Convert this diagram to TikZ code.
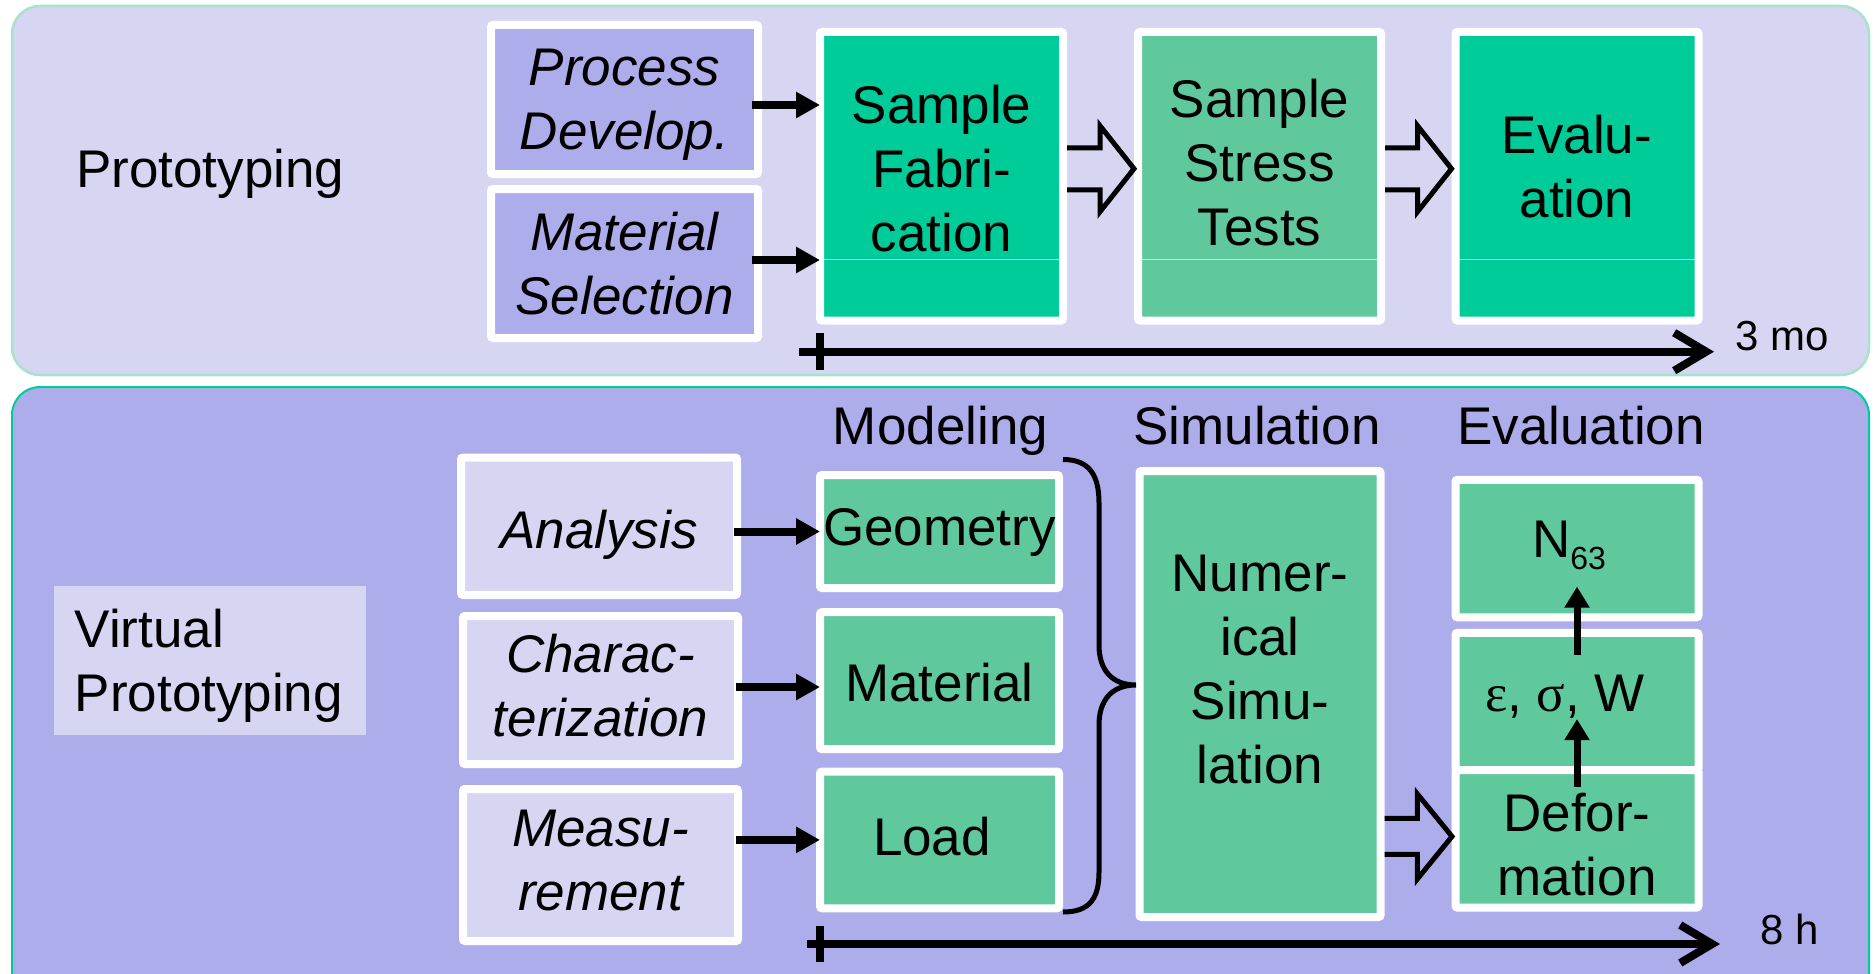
\documentclass[tikz,border=0pt]{standalone}
\usepackage{fontspec}
\setmainfont{Liberation Sans}
\newfontfamily\grkfont{Liberation Serif}
\usetikzlibrary{arrows.meta,calc}
\definecolor{lavL}{HTML}{D6D6F3}
\definecolor{lavD}{HTML}{ADADEB}
\definecolor{grnB}{HTML}{00CC99}
\definecolor{grnM}{HTML}{5FC89D}
\definecolor{mintB}{HTML}{A6E3CB}
\definecolor{sepC}{HTML}{B8F0DE}
\newcommand\BoxFont{\fontsize{53}{64}\selectfont}
\newcommand\SmallFont{\fontsize{42}{48}\selectfont}
\newcommand\SubFont{\fontsize{32}{32}\selectfont}
% #1 start point, #2 tip point, #3 shaft half height, #4 head half height, #5 head length
\newcommand\hollowarrow[5]{\draw[hollow] let \p1=#1, \p2=#2 in
  (\x1,\y2+#3) -- (\x2-#5,\y2+#3) -- (\x2-#5,\y2+#4) -- (\x2,\y2)
  -- (\x2-#5,\y2-#4) -- (\x2-#5,\y2-#3) -- (\x1,\y2-#3);}
\tikzset{
 wbox/.style={draw=white, line width=8pt, rounded corners=2pt, inner sep=0pt, outer sep=0pt},
 txt/.style={font=\BoxFont, align=center, inner sep=0pt},
 itxt/.style={font=\BoxFont\itshape, align=center, inner sep=0pt},
 arr/.style={line width=8pt, -{Triangle[length=24pt,width=25pt]}},
 varr/.style={line width=7pt, -{Triangle[length=21pt,width=24pt]}},
 timeline/.style={line width=8pt, -{Straight Barb[length=32pt,width=38pt]}},
 ticker/.style={line width=8pt},
 hollow/.style={line width=5pt, line join=miter},
 bracestyle/.style={line width=5pt},
 sepline/.style={draw=sepC, line width=1.2pt},
 head/.style={font=\BoxFont, anchor=base, inner sep=0pt},
}
\begin{document}
\begin{tikzpicture}[x=1pt,y=-1pt]
\useasboundingbox (0,0) rectangle (1874,974);
\clip (0,0) rectangle (1874,974);
% panels
\path[fill=lavL, draw=mintB, line width=2.5pt, rounded corners=28pt] (12,6) rectangle (1869,375);
\path[fill=lavD, draw=grnB, line width=2pt, rounded corners=28pt] (12,387) rectangle (1869,1010);

% ---------- top: prototyping ----------
\node[font=\BoxFont, anchor=base west, inner sep=0pt] (proto) at (76,187) {Prototyping};

\node[wbox, fill=lavD, minimum width=267pt, minimum height=149pt] (pd) at (624.5,99.5) {};
\node[wbox, fill=lavD, minimum width=267pt, minimum height=149pt] (ms) at (624.5,263.5) {};
\node[wbox, fill=grnB, minimum width=243pt, minimum height=288.5pt] (sf) at (941.5,176.25) {};
\node[wbox, fill=grnM, minimum width=243pt, minimum height=288.5pt] (sst) at (1259.5,176.25) {};
\node[wbox, fill=grnB, minimum width=243pt, minimum height=288.5pt] (ev) at (1577,176.25) {};
\foreach \b in {sf,sst,ev}
  \draw[sepline] ($(\b.south west)+(4,-61)$) -- ($(\b.south east)+(-4,-61)$);

\node[itxt] (pd-t) at ($(pd)+(0,5.5)$) {Process\\Develop.};
\node[itxt] (ms-t) at ($(ms)+(0,0)$) {Material\\Selection};
\node[txt] (sf-t) at ($(sf)+(0,-7.5)$) {Sample\\Fabri-\\cation};
\node[txt] (sst-t) at ($(sst)+(0,-13.5)$) {Sample\\Stress\\Tests};
\node[txt] (ev-t) at ($(ev)+(0,-10)$) {Evalu-\\ation};

\coordinate (a1) at ([xshift=-6pt,yshift=-5.5pt]pd.east);
\coordinate (a2) at ([xshift=-6pt,yshift=3.5pt]ms.east);
\draw[arr] (a1) -- (a1 -| sf.west);
\draw[arr] (a2) -- (a2 -| sf.west);

\hollowarrow{([xshift=4pt]sf.east)}{([xshift=-4pt,yshift=7.5pt]sst.west)}{21pt}{43pt}{34pt}
\hollowarrow{([xshift=4pt]sst.east)}{([xshift=-4pt,yshift=7.5pt]ev.west)}{21pt}{43pt}{34pt}

\coordinate (tl1s) at (799,351.7);
\coordinate (tl1e) at (1714,351.7);
\draw[timeline] (tl1s) -- (tl1e);
\draw[ticker] (820,333) -- (820,369.5);
\node[font=\SmallFont, anchor=base west, inner sep=0pt] (t3mo) at (1735,350) {3 mo};

% ---------- bottom: virtual prototyping ----------
\node[fill=lavL, minimum width=312pt, minimum height=149pt, inner sep=0pt] (vp) at (210,660.5) {};
\node[font=\BoxFont, align=left, anchor=west, inner sep=0pt] (vp-t) at (74.6,665.5) {Virtual\\Prototyping};

\node[head] (hmod) at (940.5,444) {Modeling};
\node[head] (hsim) at (1257,444) {Simulation};
\node[head] (heval) at (1581,444) {Evaluation};

\node[wbox, fill=lavL, minimum width=276pt, minimum height=137.5pt] (an) at (599,526.25) {};
\node[wbox, fill=lavL, minimum width=275pt, minimum height=148pt] (ch) at (600.5,690) {};
\node[wbox, fill=lavL, minimum width=275pt, minimum height=152pt] (me) at (600.5,865) {};

\node[wbox, fill=grnM, minimum width=239pt, minimum height=113pt] (geo) at (939.5,531.5) {};
\node[wbox, fill=grnM, minimum width=239pt, minimum height=137pt] (mat) at (939.5,680.7) {};
\node[wbox, fill=grnM, minimum width=239pt, minimum height=136.7pt] (lo) at (939.5,839.9) {};

\node[wbox, fill=grnM, minimum width=241pt, minimum height=446pt] (ns) at (1260,694) {};

\node[wbox, fill=grnM, minimum width=243pt, minimum height=137.5pt] (n63) at (1577,548.5) {};
\node[wbox, fill=grnM, minimum width=243pt, minimum height=137.2pt] (eps) at (1577,701.5) {};
\node[wbox, fill=grnM, minimum width=243pt, minimum height=137.5pt] (def) at (1577,838.85) {};

\node[itxt] (an-t) at ($(an)+(0,9)$) {Analysis};
\node[itxt] (ch-t) at ($(ch)+(0,-4.5)$) {Charac-\\terization};
\node[itxt] (me-t) at ($(me)+(0,-4)$) {Measu-\\rement};
\node[txt] (geo-t) at ($(geo)+(0,0.5)$) {Geometry};
\node[txt] (mat-t) at ($(mat)+(0,1.5)$) {Material};
\node[txt] (lo-t) at ($(lo)+(-7.5,-3.5)$) {Load};
\node[txt] (ns-t) at ($(ns)+(0,-24)$) {Numer-\\ical\\Simu-\\lation};
\node[txt] (n63-t) at ($(n63)+(-8,-3)$) {N\raisebox{-12pt}{\SubFont 63}};
\node[txt] (eps-t) at ($(eps)+(-12,-5)$) {{\grkfont ε}, {\grkfont σ}, W};
\node[txt] (def-t) at ($(def)+(0,6)$) {Defor-\\mation};

\coordinate (a3) at ([xshift=-2pt,yshift=3pt]ch.east);
\coordinate (a4) at ([xshift=-3pt]an.east |- geo.west);
\coordinate (a5) at ([xshift=-2pt]me.east |- lo.west);
\draw[arr] (a4) -- (geo.west);
\draw[arr] (a3) -- (a3 -| mat.west);
\draw[arr] (a5) -- (lo.west);

% brace
\coordinate (bt) at (1063,459.5);
\coordinate (bb) at (1063,912);
\coordinate (btip) at (1136,685);
\draw[bracestyle] (bt) .. controls (1090,459.5) and (1099,476) .. (1099,503)
  -- (1099,645) .. controls (1099,670) and (1112,685) .. (btip)
  .. controls (1112,685) and (1099,700) .. (1099,725)
  -- (1099,872) .. controls (1099,898) and (1090,912) .. (bb);

\hollowarrow{([xshift=4pt]ns.east)}{([xshift=-3.5pt,yshift=2.4pt]def.west)}{18pt}{42.5pt}{34.6pt}

\draw[varr] ([yshift=-17pt]def.north) -- ([yshift=51pt]eps.south);
\draw[varr] ([yshift=-21.7pt]eps.north) -- ([yshift=30.6pt]n63.south);

\coordinate (tl2s) at (806.6,944);
\coordinate (tl2e) at (1720,944);
\draw[timeline] (tl2s) -- (tl2e);
\draw[ticker] (820,925.5) -- (820,961.5);
\node[font=\SmallFont, anchor=base west, inner sep=0pt] (t8h) at (1760,944) {8 h};
\end{tikzpicture}
\end{document}
